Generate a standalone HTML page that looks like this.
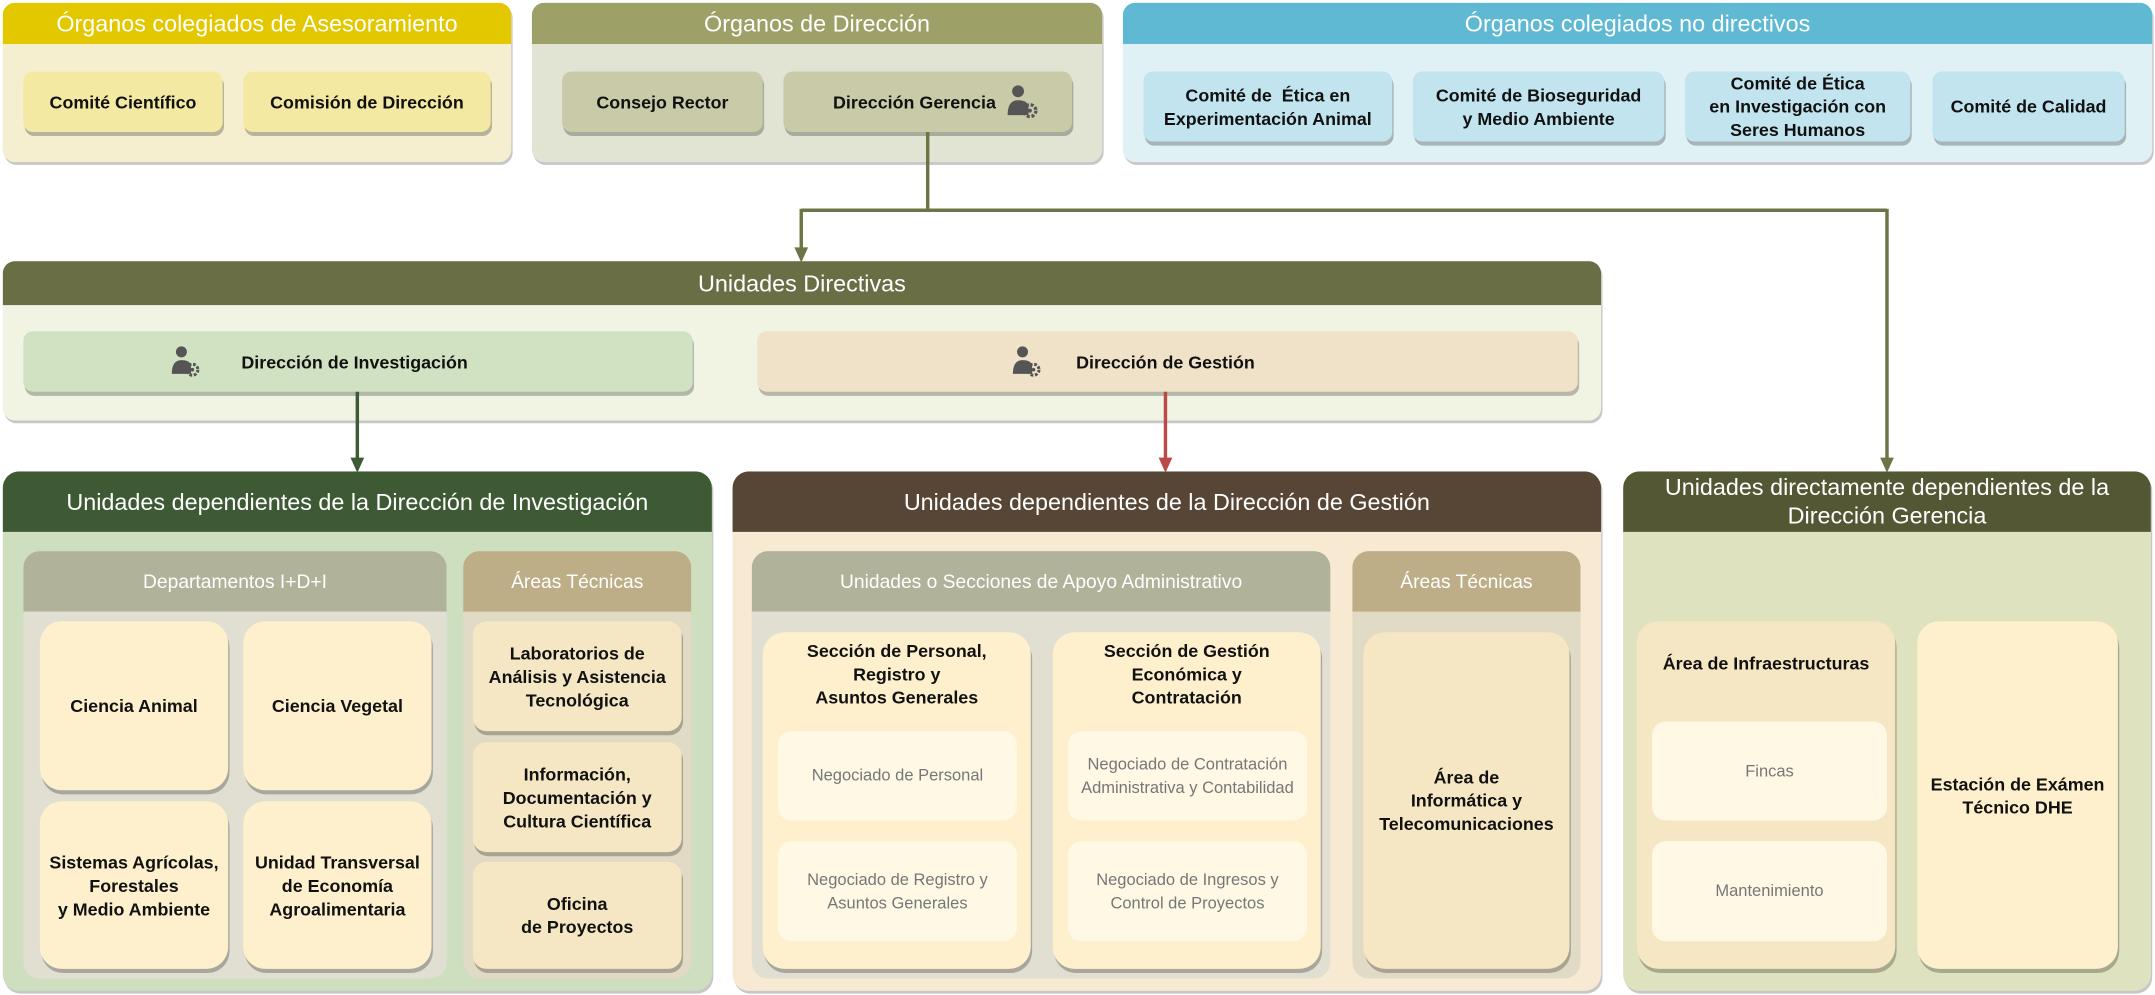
<!DOCTYPE html>
<html><head><meta charset="utf-8"><style>
html,body{margin:0;padding:0;background:#fff;width:2155px;height:995px;overflow:hidden}
#s{position:absolute;left:0;top:0;width:1568px;height:724px;transform:scale(1.37436);transform-origin:0 0;font-family:"Liberation Sans",sans-serif}
.b{position:absolute;box-sizing:border-box;border-radius:9px;overflow:hidden;box-shadow:1px 2px 0 rgba(0,0,0,0.22)}
.h{position:absolute;left:0;right:0;top:0;color:#fff;font-size:17px;display:flex;align-items:center;justify-content:center;text-align:center;line-height:21px}
.n{position:absolute;box-sizing:border-box;border-radius:7px;display:flex;align-items:center;justify-content:center;text-align:center;font-weight:bold;font-size:13px;color:#111;line-height:17px;box-shadow:1px 3px 0 rgba(0,0,0,0.25)}
.r{border-radius:16px}
.g{font-weight:normal;color:#777;font-size:12px;line-height:17px;box-shadow:none;border-radius:10px;background:#fef8e5}
.t{position:absolute;font-weight:bold;font-size:13px;line-height:17px;text-align:center;color:#111}
svg.l{position:absolute;left:0;top:0;overflow:visible}
</style></head><body><div id="s">

<div class="b" style="left:2px;top:2px;width:370px;height:116px;background:#f5efd0"><div class="h" style="height:30px;background:#e3c800">Órganos colegiados de Asesoramiento</div></div>
<div class="n" style="left:17px;top:52px;width:145px;height:44px;background:#f3e9a3">Comité Científico</div>
<div class="n" style="left:177px;top:52px;width:180px;height:44px;background:#f3e9a3">Comisión de Dirección</div>

<div class="b" style="left:387px;top:2px;width:415px;height:116px;background:#e2e4d3"><div class="h" style="height:30px;background:#9da067">Órganos de Dirección</div></div>
<div class="n" style="left:409px;top:52px;width:146px;height:44px;background:#c8caa8">Consejo Rector</div>
<div class="n" style="left:570px;top:52px;width:210px;height:44px;background:#c8caa8;padding-left:12px">Dirección Gerencia&nbsp;&nbsp;<svg width="24" height="26" viewBox="0 0 22 24"><circle cx="8" cy="5" r="4" fill="#555"/><path d="M1 21 Q1 11 8 11 Q15 11 15 16 L15 21Z" fill="#555"/><circle cx="16" cy="18" r="4" fill="none" stroke="#555" stroke-width="2.2" stroke-dasharray="2 1.2"/><circle cx="16" cy="18" r="1.3" fill="#555"/></svg></div>

<div class="b" style="left:817px;top:2px;width:749px;height:116px;background:#e0f1f5"><div class="h" style="height:30px;background:#5fb9d3">Órganos colegiados no directivos</div></div>
<div class="n" style="left:832px;top:52px;width:181px;height:51px;background:#c1e4ee">Comité de &nbsp;Ética en<br>Experimentación Animal</div>
<div class="n" style="left:1028px;top:52px;width:183px;height:51px;background:#c1e4ee">Comité de Bioseguridad<br>y Medio Ambiente</div>
<div class="n" style="left:1226px;top:52px;width:164px;height:51px;background:#c1e4ee">Comité de Ética<br>en Investigación con<br>Seres Humanos</div>
<div class="n" style="left:1406px;top:52px;width:140px;height:51px;background:#c1e4ee">Comité de Calidad</div>

<div class="b" style="left:2px;top:190px;width:1163px;height:116px;background:#f1f4e3"><div class="h" style="height:32px;background:#6a6e45">Unidades Directivas</div></div>
<div class="n" style="left:17px;top:241px;width:487px;height:44px;background:#d1e2c2"></div>
<div class="n" style="left:551px;top:241px;width:597px;height:44px;background:#f0e2c8"></div>
<svg class="l" width="10" height="10" style="left:124px;top:251px"><circle cx="8" cy="5" r="4" fill="#555"/><path d="M1 21 Q1 11 8 11 Q15 11 15 16 L15 21Z" fill="#555"/><circle cx="16" cy="18" r="4" fill="none" stroke="#555" stroke-width="2.2" stroke-dasharray="2 1.2"/><circle cx="16" cy="18" r="1.3" fill="#555"/></svg>
<div class="t" style="left:148px;top:255px;width:220px">Dirección de Investigación</div>
<svg class="l" width="10" height="10" style="left:736px;top:251px"><circle cx="8" cy="5" r="4" fill="#555"/><path d="M1 21 Q1 11 8 11 Q15 11 15 16 L15 21Z" fill="#555"/><circle cx="16" cy="18" r="4" fill="none" stroke="#555" stroke-width="2.2" stroke-dasharray="2 1.2"/><circle cx="16" cy="18" r="1.3" fill="#555"/></svg>
<div class="t" style="left:758px;top:255px;width:180px">Dirección de Gestión</div>

<svg class="l" width="1568" height="724">
<path d="M675 96 V153 M583 153 H1373 M583 152 V183 M1373 152 V336" stroke="#6b7545" stroke-width="2.5" fill="none"/>
<path d="M578 180 L583 191 L588 180Z M1368 333 L1373 344 L1378 333Z" fill="#6b7545"/>
<path d="M260 285 V336" stroke="#3e5b35" stroke-width="2.5"/><path d="M255 333 L260 344 L265 333Z" fill="#3e5b35"/>
<path d="M848 285 V336" stroke="#b94a48" stroke-width="2.5"/><path d="M843 333 L848 344 L853 333Z" fill="#b94a48"/>
</svg>

<div class="b" style="left:2px;top:343px;width:516px;height:378px;background:#cddfbf;border-radius:12px"><div class="h" style="height:44px;background:#3e5a35">Unidades dependientes de la Dirección de Investigación</div></div>
<div class="b" style="left:17px;top:401px;width:308px;height:311px;background:#e0dfd2;box-shadow:none;border-radius:12px"><div class="h" style="height:44px;background:#b0b29a;font-size:14px">Departamentos I+D+I</div></div>
<div class="n r" style="left:29px;top:452px;width:137px;height:123px;background:#fef0cc">Ciencia Animal</div>
<div class="n r" style="left:177px;top:452px;width:137px;height:123px;background:#fef0cc">Ciencia Vegetal</div>
<div class="n r" style="left:29px;top:583px;width:137px;height:122px;background:#fef0cc">Sistemas Agrícolas,<br>Forestales<br>y Medio Ambiente</div>
<div class="n r" style="left:177px;top:583px;width:137px;height:122px;background:#fef0cc">Unidad Transversal<br>de Economía<br>Agroalimentaria</div>
<div class="b" style="left:337px;top:401px;width:166px;height:311px;background:#e1dac5;box-shadow:none;border-radius:12px"><div class="h" style="height:44px;background:#bdae87;font-size:14px">Áreas Técnicas</div></div>
<div class="n" style="left:344px;top:452px;width:152px;height:80px;background:#f5e6c4;border-radius:10px">Laboratorios de<br>Análisis y Asistencia<br>Tecnológica</div>
<div class="n" style="left:344px;top:540px;width:152px;height:80px;background:#f5e6c4;border-radius:10px">Información,<br>Documentación y<br>Cultura Científica</div>
<div class="n" style="left:344px;top:627px;width:152px;height:78px;background:#f5e6c4;border-radius:10px">Oficina<br>de Proyectos</div>

<div class="b" style="left:533px;top:343px;width:632px;height:378px;background:#f7e9d2;border-radius:12px"><div class="h" style="height:44px;background:#574636">Unidades dependientes de la Dirección de Gestión</div></div>
<div class="b" style="left:547px;top:401px;width:421px;height:311px;background:#e0dfd2;box-shadow:none;border-radius:12px"><div class="h" style="height:44px;background:#b0b29a;font-size:14px">Unidades o Secciones de Apoyo Administrativo</div></div>
<div class="n r" style="left:555px;top:460px;width:195px;height:245px;background:#fef0cc"></div>
<div class="t" style="left:555px;top:465px;width:195px">Sección de Personal,<br>Registro y<br>Asuntos Generales</div>
<div class="n g" style="left:566px;top:532px;width:174px;height:65px">Negociado de Personal</div>
<div class="n g" style="left:566px;top:612px;width:174px;height:73px">Negociado de Registro y<br>Asuntos Generales</div>
<div class="n r" style="left:766px;top:460px;width:195px;height:245px;background:#fef0cc"></div>
<div class="t" style="left:766px;top:465px;width:195px">Sección de Gestión<br>Económica y<br>Contratación</div>
<div class="n g" style="left:777px;top:532px;width:174px;height:65px">Negociado de Contratación<br>Administrativa y Contabilidad</div>
<div class="n g" style="left:777px;top:612px;width:174px;height:73px">Negociado de Ingresos y<br>Control de Proyectos</div>
<div class="b" style="left:984px;top:401px;width:166px;height:311px;background:#e1dac5;box-shadow:none;border-radius:12px"><div class="h" style="height:44px;background:#bdae87;font-size:14px">Áreas Técnicas</div></div>
<div class="n r" style="left:992px;top:460px;width:150px;height:245px;background:#f5e6c4">Área de<br>Informática y<br>Telecomunicaciones</div>

<div class="b" style="left:1181px;top:343px;width:384px;height:378px;background:#dfe2bf;border-radius:12px"><div class="h" style="height:44px;background:#545733">Unidades directamente dependientes de la<br>Dirección Gerencia</div></div>
<div class="n r" style="left:1191px;top:452px;width:188px;height:253px;background:#f5e6c4"></div>
<div class="t" style="left:1191px;top:474px;width:188px">Área de Infraestructuras</div>
<div class="n g" style="left:1202px;top:525px;width:171px;height:72px">Fincas</div>
<div class="n g" style="left:1202px;top:612px;width:171px;height:73px">Mantenimiento</div>
<div class="n r" style="left:1395px;top:452px;width:146px;height:253px;background:#fef0cc">Estación de Exámen<br>Técnico DHE</div>

</div></body></html>
